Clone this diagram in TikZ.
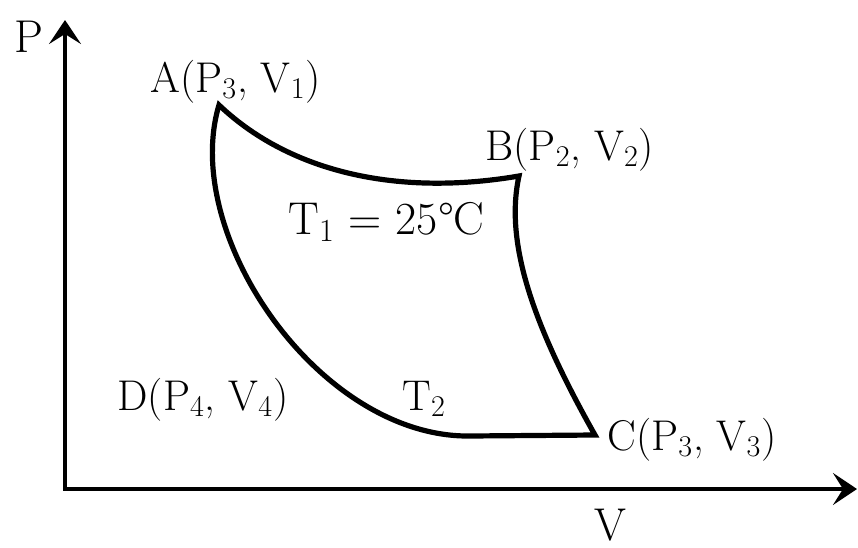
\documentclass[tikz,border=0pt]{standalone}
\usetikzlibrary{arrows.meta}

\begin{document}
\begin{tikzpicture}[
    x=0.5pt, y=-0.5pt,
    axis/.style={line width=2.4pt, line join=miter,
      {Stealth[length=12pt, width=16pt, inset=5pt]}-{Stealth[length=12pt, width=16pt, inset=5pt]}},
    cyc/.style={line width=2.6pt, line join=miter},
    lbl/.style={anchor=base west, inner sep=0pt, font=\fontsize{21.5}{25}\selectfont},
    big/.style={anchor=base west, inner sep=0pt, font=\fontsize{23}{28}\selectfont}
  ]
    \useasboundingbox (0,0) rectangle (858,547);
    % axes
    \coordinate (O) at (65,489);
    \coordinate (ytip) at (65,20);
    \coordinate (xtip) at (857,489);
    \draw[axis] (ytip) -- (O) -- (xtip);
    \node[big] (plbl) at (14,52) {P};
    \node[big] (vlbl) at (594,540) {V};
    % corners of the cycle
    \coordinate (A) at (219,105);
    \coordinate (B) at (519,176);
    \coordinate (C) at (595,435);
    \coordinate (E) at (470,436);
    \draw[cyc] (A) .. controls (285,168) and (390,198) .. (B)
      .. controls (505,240) and (530,320) .. (C)
      -- (E) .. controls (320,438) and (180,235) .. cycle;
    % labels
    \node[lbl] (albl) at (150,92) {A(P\textsubscript{3}, V\textsubscript{1})};
    \node[lbl] (blbl) at (485,160) {B(P\textsubscript{2}, V\textsubscript{2})};
    \node[lbl] (clbl) at (607,450) {C(P\textsubscript{3}, V\textsubscript{3})};
    \node[lbl] (dlbl) at (117,410) {D(P\textsubscript{4}, V\textsubscript{4})};
    \node[big] (t1) at (288,234) {T\textsubscript{1} = 25\textdegree C};
    \node[lbl] (t2) at (402,410) {T\textsubscript{2}};
\end{tikzpicture}
\end{document}
